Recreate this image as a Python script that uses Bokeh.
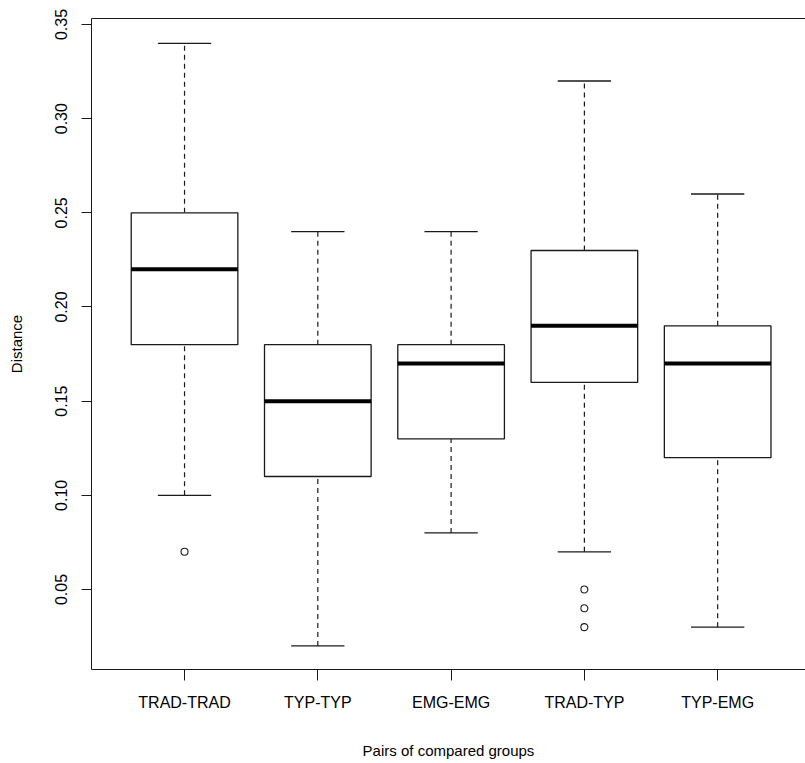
from bokeh.plotting import figure
from bokeh.models import FixedTicker, LinearAxis, Range1d, ColumnDataSource
from bokeh.embed import file_html
from bokeh.resources import INLINE

# ---- data ----
categories = ["TRAD-TRAD", "TYP-TYP", "EMG-EMG", "TRAD-TYP", "TYP-EMG"]
whisker_low = [0.10, 0.02, 0.08, 0.07, 0.03]
q1 = [0.18, 0.11, 0.13, 0.16, 0.12]
median = [0.22, 0.15, 0.17, 0.19, 0.17]
q3 = [0.25, 0.18, 0.18, 0.23, 0.19]
whisker_high = [0.34, 0.24, 0.24, 0.32, 0.26]
outlier_group = ["TRAD-TRAD", "TRAD-TYP", "TRAD-TYP", "TRAD-TYP"]
outlier_value = [0.07, 0.05, 0.04, 0.03]
y_ticks = [0.05, 0.10, 0.15, 0.20, 0.25, 0.30, 0.35]

FONT = "Liberation Sans"
BOX_W = 0.8
CAP_W = 0.4

xpos = [i + 1 for i in range(len(categories))]
src = ColumnDataSource(dict(
    x=xpos, lo=whisker_low, q1=q1, med=median, q3=q3, hi=whisker_high,
    left=[x - BOX_W / 2 for x in xpos], right=[x + BOX_W / 2 for x in xpos],
    cl=[x - CAP_W / 2 for x in xpos], cr=[x + CAP_W / 2 for x in xpos],
))
out_src = ColumnDataSource(dict(
    x=[categories.index(g) + 1 for g in outlier_group], y=outlier_value))

p = figure(width=805, height=763, output_backend="svg", toolbar_location=None,
           x_range=Range1d(0.302, 5.659), y_range=Range1d(0.0075, 0.3532),
           min_border_left=91, min_border_top=18, min_border_bottom=94,
           min_border_right=0, x_axis_label="Pairs of compared groups",
           y_axis_label="Distance")
p.outline_line_color = None
p.grid.grid_line_color = None
p.background_fill_color = "white"
p.border_fill_color = "white"

LC = "#1a1a1a"

# whiskers (dashed)
p.segment(x0="x", y0="q3", x1="x", y1="hi", source=src, line_color=LC,
          line_width=1.2, line_dash="5 4")
p.segment(x0="x", y0="lo", x1="x", y1="q1", source=src, line_color=LC,
          line_width=1.2, line_dash="5 4")
# caps
p.segment(x0="cl", y0="hi", x1="cr", y1="hi", source=src, line_color=LC, line_width=1.3)
p.segment(x0="cl", y0="lo", x1="cr", y1="lo", source=src, line_color=LC, line_width=1.3)
# boxes
p.quad(left="left", right="right", bottom="q1", top="q3", source=src,
       fill_color="white", line_color=LC, line_width=1.3)
# medians
p.segment(x0="left", y0="med", x1="right", y1="med", source=src,
          line_color="black", line_width=4)
# outliers
p.scatter(x="x", y="y", source=out_src, marker="circle", size=7,
          fill_color=None, line_color=LC, line_width=1.1)

# x axis
xa = p.xaxis[0]
xa.ticker = FixedTicker(ticks=xpos)
xa.major_label_overrides = {x: c for x, c in zip(xpos, categories)}
xa.major_tick_out = 11
xa.major_tick_in = 0
xa.minor_tick_line_color = None
xa.major_label_standoff = 13
xa.axis_label_standoff = 28
xa.axis_line_color = LC
xa.major_tick_line_color = LC
xa.major_label_text_font = FONT
xa.major_label_text_font_size = "16px"
xa.major_label_text_color = "black"
xa.axis_label_text_font = FONT
xa.axis_label_text_font_size = "15px"
xa.axis_label_text_font_style = "normal"
xa.axis_label_text_color = "black"

# y axis
ya = p.yaxis[0]
ya.ticker = FixedTicker(ticks=y_ticks)
ya.major_label_overrides = {t: f"{t:.2f}" for t in y_ticks}
ya.major_label_orientation = "vertical"
ya.major_tick_out = 10
ya.major_tick_in = 0
ya.minor_tick_line_color = None
ya.major_label_standoff = 14
ya.axis_label_standoff = 28
ya.axis_line_color = LC
ya.major_tick_line_color = LC
ya.major_label_text_font = FONT
ya.major_label_text_font_size = "16px"
ya.major_label_text_color = "black"
ya.axis_label_text_font = FONT
ya.axis_label_text_font_size = "15px"
ya.axis_label_text_font_style = "normal"
ya.axis_label_text_color = "black"

# top frame line
top = LinearAxis(major_tick_line_color=None, minor_tick_line_color=None,
                 major_label_text_font_size="0px", major_label_standoff=0,
                 axis_line_color=LC, ticker=FixedTicker(ticks=[]))
p.add_layout(top, "above")

open("out.html", "w").write(file_html(p, INLINE))
